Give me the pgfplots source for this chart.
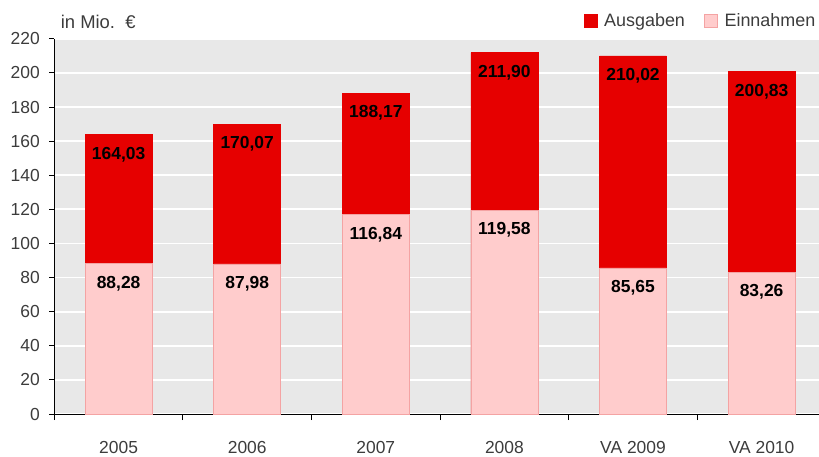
\documentclass[border=0pt]{standalone}
\usepackage{fontspec}
\setmainfont{Liberation Sans}
\usepackage{pgfplots}
\usepackage{pgfplotstable}
\pgfplotsset{compat=1.18}
\definecolor{ared}{HTML}{E60000}
\definecolor{epink}{HTML}{FFCCCC}
\definecolor{epinkedge}{HTML}{F4A3A3}
\definecolor{bggray}{HTML}{E8E8E8}
\definecolor{txt}{HTML}{3C3C3C}

\pgfplotstableread{
x y label
0 164.03 164,03
1 170.07 170,07
2 188.17 188,17
3 211.90 211,90
4 210.02 210,02
5 200.83 200,83
}\ausgaben

\pgfplotstableread{
x y label
0 88.28 88,28
1 87.98 87,98
2 116.84 116,84
3 119.58 119,58
4 85.65 85,65
5 83.26 83,26
}\einnahmen

\begin{document}
\begin{tikzpicture}
\begin{axis}[
  x=128.6bp, y=1.705bp,
  xmin=-0.5, xmax=5.45, ymin=0, ymax=220,
  axis lines*=left,
  axis line style={black, line width=1bp},
  axis background/.style={fill=bggray},
  ymajorgrids,
  grid style={white, line width=1.8bp},
  ytick={0,20,...,220},
  xtick={0,...,5},
  xticklabels={2005,2006,2007,2008,VA 2009,VA 2010},
  minor xtick={-0.5,0.5,...,4.5},
  major x tick style={draw=none},
  minor x tick style={black, line width=1bp},
  major y tick style={black, line width=1bp},
  tick align=outside,
  major tick length=5bp, minor tick length=6bp,
  ticklabel style={font=\fontsize{17.5}{20}\selectfont, text=txt},
  /pgf/number format/assume math mode=true,
  yticklabel style={xshift=-6bp},
  xticklabel style={yshift=-19bp},
  ybar, bar width=0.52, bar shift=0pt,
  clip=false,
  legend style={draw=none, fill=none, font=\fontsize{18}{20}\selectfont, text=txt,
    legend columns=2, at={(rel axis cs:1,1)}, anchor=east, xshift=1bp, yshift=18bp,
    /tikz/every odd column/.append style={column sep=5bp},
    /tikz/every even column/.append style={column sep=17bp}},
  legend image code/.code={\fill[#1] (0bp,-6.5bp) rectangle (13bp,6.5bp);},
]
\addplot[fill=ared, draw=ared, line width=0.6bp,
  nodes near coords, point meta=explicit symbolic,
  every node near coord/.append style={font=\bfseries\fontsize{17.5}{20}\selectfont, text=black, anchor=center, yshift=-20bp}]
  table[x=x, y=y, meta=label]{\ausgaben};
\addlegendentry{Ausgaben}
\addplot[fill=epink, draw=epinkedge, line width=0.6bp,
  nodes near coords, point meta=explicit symbolic,
  every node near coord/.append style={font=\bfseries\fontsize{17.5}{20}\selectfont, text=black, anchor=center, yshift=-20bp}]
  table[x=x, y=y, meta=label]{\einnahmen};
\addlegendentry{Einnahmen}
\coordinate (O) at (rel axis cs:0,0);
\node[anchor=west, xshift=3bp, yshift=17bp, font=\fontsize{18.5}{20}\selectfont, text=txt] at (rel axis cs:0,1) {in Mio.\ \ €};
\end{axis}
\pgfresetboundingbox
\path[use as bounding box] ([shift={(-54.3bp,-43bp)}]O) rectangle ([shift={(764.7bp,414bp)}]O);
\end{tikzpicture}
\end{document}
